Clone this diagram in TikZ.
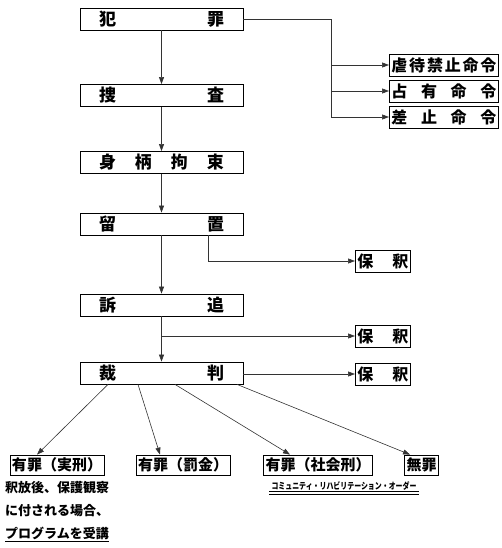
\documentclass[tikz,border=0pt]{standalone}
\usepackage{fontspec}
\setmainfont{Noto Sans CJK JP}
\usetikzlibrary{arrows.meta}

\begin{document}
\begin{tikzpicture}[x=1pt, y=-1pt,
  mainbox/.style={draw, line width=0.8pt, text width=125pt, inner xsep=19pt, inner ysep=0pt, minimum height=22pt, font=\bfseries\fontsize{17}{17}\selectfont},
  sidebox/.style={draw, line width=0.8pt, anchor=west, text width=105pt, inner xsep=2pt, inner ysep=0pt, minimum height=22pt, font=\bfseries\fontsize{16}{16}\selectfont},
  bailbox/.style={sidebox, text width=51pt},
  verdict/.style={draw, line width=0.8pt, inner xsep=2pt, inner ysep=0pt, minimum height=20pt, font=\bfseries\fontsize{15}{15}\selectfont},
  flow/.style={-{Triangle[length=7pt,width=5pt]}, line width=0.6pt, draw=black!80},
  plain/.style={line width=0.6pt, draw=black!80}]
\useasboundingbox (0,0) rectangle (502,548);

% main line
\node[mainbox] (hanzai) at (161.5,19) {犯\hfill 罪};
\node[mainbox] (sousa) at (161.5,95.5) {捜\hfill 査};
\node[mainbox] (kousoku) at (161.5,162.5) {身\hfill 柄\hfill 拘\hfill 束};
\node[mainbox] (ryuuchi) at (161.5,224) {留\hfill 置};
\node[mainbox] (sotsui) at (161.5,305) {訴\hfill 追};
\node[mainbox] (saiban) at (161.5,373) {裁\hfill 判};

\draw[flow] (hanzai) -- (sousa);
\draw[flow] (sousa) -- (kousoku);
\draw[flow] (kousoku) -- (ryuuchi);
\draw[flow] (ryuuchi) -- (sotsui);
\draw[flow] (sotsui) -- (saiban);

% orders
\node[sidebox] (gyakutai) at (389,65) {虐\hfill 待\hfill 禁\hfill 止\hfill 命\hfill 令};
\node[sidebox] (senyuu) at (389,91) {占\hfill 有\hfill 命\hfill 令};
\node[sidebox] (sashidome) at (389,117) {差\hfill 止\hfill 命\hfill 令};
\coordinate (fork) at (331,19);
\draw[plain] (hanzai.east) -- (fork) -- (fork |- sashidome.west);
\draw[flow] (fork |- gyakutai.west) -- (gyakutai.west);
\draw[flow] (fork |- senyuu.west) -- (senyuu.west);
\draw[flow] (fork |- sashidome.west) -- (sashidome.west);

% bail
\node[bailbox] (hoshaku1) at (355,261) {保\hfill 釈};
\node[bailbox] (hoshaku2) at (355,336) {保\hfill 釈};
\node[bailbox] (hoshaku3) at (355,374) {保\hfill 釈};
\draw[flow] ([xshift=46.5pt]ryuuchi.south) |- (hoshaku1.west);
\draw[flow] (sotsui.south |- hoshaku2.west) -- (hoshaku2.west);
\draw[flow] (saiban.east |- hoshaku3.west) -- (hoshaku3.west);

% verdicts
\node[verdict] (jikkei) at (57,465) {有罪（実刑）};
\node[verdict] (bakkin) at (183,465) {有罪（罰金）};
\node[verdict] (shakai) at (318,465) {有罪（社会刑）};
\node[verdict] (muzai) at (421.5,465) {無罪};
\draw[flow] ([xshift=-53.5pt]saiban.south) -- ([xshift=-20pt]jikkei.north);
\draw[flow] ([xshift=-23.5pt]saiban.south) -- ([xshift=-23pt]bakkin.north);
\draw[flow] ([xshift=13.5pt]saiban.south) -- ([xshift=-28pt]shakai.north);
\draw[flow] ([xshift=75.5pt]saiban.south) -- ([xshift=-11.5pt]muzai.north);

\node[anchor=north west, align=left, inner sep=0pt, font=\bfseries\fontsize{13}{23}\selectfont] (program) at (5,481)
  {釈放後、保護観察\\に付される場合、\\\underline{プログラムを受講}};
\node[inner ysep=1pt, inner xsep=2pt, font=\bfseries\fontsize{9}{9}\selectfont] (cro) at (344,486)
  {\scalebox{0.77}[1]{コミュニティ・リハビリテーション・オーダー}};
\draw[line width=0.6pt] (cro.south west) -- (cro.south east);
\draw[line width=0.6pt] ([yshift=-2.5pt]cro.south west) -- ([yshift=-2.5pt]cro.south east);
\end{tikzpicture}
\end{document}
